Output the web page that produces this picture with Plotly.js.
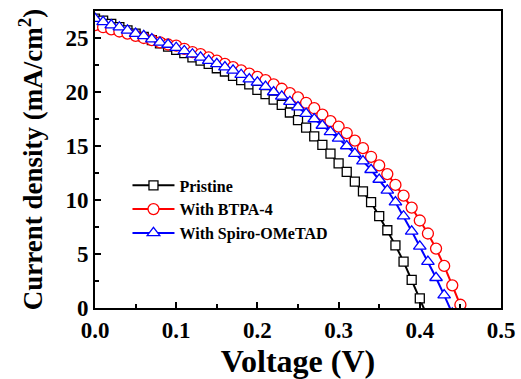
<!DOCTYPE html>
<html>
<head>
<meta charset="utf-8">
<script src="https://cdn.plot.ly/plotly-3.0.1.min.js"></script>
<style>html,body{margin:0;padding:0;background:#fff;}#chart{width:521px;height:379px;}</style>
</head>
<body>
<div id="chart"></div>
<script>
// Voltage (V) sampled every 0.01 V
var voltPristine = [0.00,0.01,0.02,0.03,0.04,0.05,0.06,0.07,0.08,0.09,0.10,0.11,0.12,0.13,0.14,0.15,0.16,0.17,0.18,0.19,0.20,0.21,0.22,0.23,0.24,0.25,0.26,0.27,0.28,0.29,0.30,0.31,0.32,0.33,0.34,0.35,0.36,0.37,0.38,0.39,0.40,0.41];
var jPristine = [26.8,26.6,26.3,26.0,25.7,25.4,25.1,24.8,24.5,24.2,23.9,23.6,23.2,22.9,22.6,22.2,21.9,21.5,21.1,20.7,20.2,19.8,19.3,18.8,18.1,17.4,16.7,15.9,15.1,14.3,13.4,12.6,11.7,10.8,9.8,8.5,7.2,5.8,4.3,2.6,0.9,-0.9];

var voltBTPA = [0.00,0.01,0.02,0.03,0.04,0.05,0.06,0.07,0.08,0.09,0.10,0.11,0.12,0.13,0.14,0.15,0.16,0.17,0.18,0.19,0.20,0.21,0.22,0.23,0.24,0.25,0.26,0.27,0.28,0.29,0.30,0.31,0.32,0.33,0.34,0.35,0.36,0.37,0.38,0.39,0.40,0.41,0.42,0.43,0.44,0.45,0.46];
var jBTPA = [26.2,26.0,25.8,25.6,25.4,25.2,25.0,24.8,24.6,24.4,24.3,24.0,23.7,23.5,23.2,22.9,22.6,22.3,22.0,21.7,21.4,21.1,20.7,20.3,19.9,19.5,19.0,18.5,17.9,17.3,16.8,16.2,15.5,14.8,14.0,13.2,12.4,11.4,10.4,9.3,8.1,6.9,5.5,3.9,2.1,0.3,-1.6];

var voltSpiro = [0.00,0.01,0.02,0.03,0.04,0.05,0.06,0.07,0.08,0.09,0.10,0.11,0.12,0.13,0.14,0.15,0.16,0.17,0.18,0.19,0.20,0.21,0.22,0.23,0.24,0.25,0.26,0.27,0.28,0.29,0.30,0.31,0.32,0.33,0.34,0.35,0.36,0.37,0.38,0.39,0.40,0.41,0.42,0.43,0.44];
var jSpiro = [26.8,26.5,26.2,26.0,25.7,25.4,25.2,24.9,24.6,24.4,24.1,23.8,23.5,23.2,22.9,22.6,22.3,22.0,21.6,21.2,20.9,20.5,20.0,19.6,19.1,18.6,18.0,17.5,16.9,16.3,15.7,15.0,14.3,13.6,12.8,11.9,10.9,9.8,8.5,7.1,5.7,4.3,2.8,1.2,-0.5];

var seriesNames = ["Pristine", "With BTPA-4", "With Spiro-OMeTAD"];
var xTickVals = [0.0,0.1,0.2,0.3,0.4,0.5];
var xTickText = ["0.0","0.1","0.2","0.3","0.4","0.5"];
var yTickVals = [0,5,10,15,20,25];
var yTickText = ["0","5","10","15","20","25"];

var serif = "Liberation Serif";
function b(s) { return "<b>" + s + "</b>"; }

var traces = [
  {x: voltPristine, y: jPristine, name: b(seriesNames[0]), mode: "lines+markers",
   line: {color: "#000000", width: 2},
   marker: {symbol: "square", size: 9, color: "#ffffff", line: {color: "#000000", width: 1.3}}},
  {x: voltBTPA, y: jBTPA, name: b(seriesNames[1]), mode: "lines+markers",
   line: {color: "#ff0000", width: 2},
   marker: {symbol: "circle", size: 11, color: "#ffffff", line: {color: "#ff0000", width: 1.3}}},
  {x: voltSpiro, y: jSpiro, name: b(seriesNames[2]), mode: "lines+markers",
   line: {color: "#0000ff", width: 2},
   marker: {symbol: "triangle-up", size: 11, color: "#ffffff", line: {color: "#0000ff", width: 1.3}}}
];

function axisCommon() {
  return {
    showline: true, mirror: true, linecolor: "#000", linewidth: 2,
    ticks: "inside", ticklen: 6, tickwidth: 2, tickcolor: "#000",
    showgrid: false, zeroline: false,
    tickfont: {family: serif, size: 23, color: "#000"}
  };
}

var layout = {
  width: 521, height: 379,
  margin: {l: 95, r: 20, t: 11, b: 71},
  paper_bgcolor: "#fff", plot_bgcolor: "#fff",
  font: {family: serif, color: "#000"},
  showlegend: true,
  legend: {x: 0.08, y: 0.47, xanchor: "left", yanchor: "top",
           bgcolor: "rgba(0,0,0,0)", borderwidth: 0, tracegroupgap: 0,
           itemwidth: 42,
           font: {family: serif, size: 16, color: "#000"}},
  xaxis: Object.assign(axisCommon(), {
    range: [0, 0.5], tickvals: xTickVals, ticktext: xTickText.map(b),
    minor: {dtick: 0.05, ticks: "inside", ticklen: 4, tickwidth: 2, tickcolor: "#000"},
    title: {text: b("Voltage (V)"), standoff: 8, font: {family: serif, size: 32, color: "#000"}}
  }),
  yaxis: Object.assign(axisCommon(), {
    range: [0, 27.5], tickvals: yTickVals, ticktext: yTickText.map(b),
    minor: {dtick: 2.5, ticks: "inside", ticklen: 4, tickwidth: 2, tickcolor: "#000"},
    title: {text: b("Current density (mA/cm<sup>2</sup>)"), standoff: 15, font: {family: serif, size: 27, color: "#000"}}
  })
};

Plotly.newPlot("chart", traces, layout, {displayModeBar: false, staticPlot: true});
</script>
</body>
</html>
